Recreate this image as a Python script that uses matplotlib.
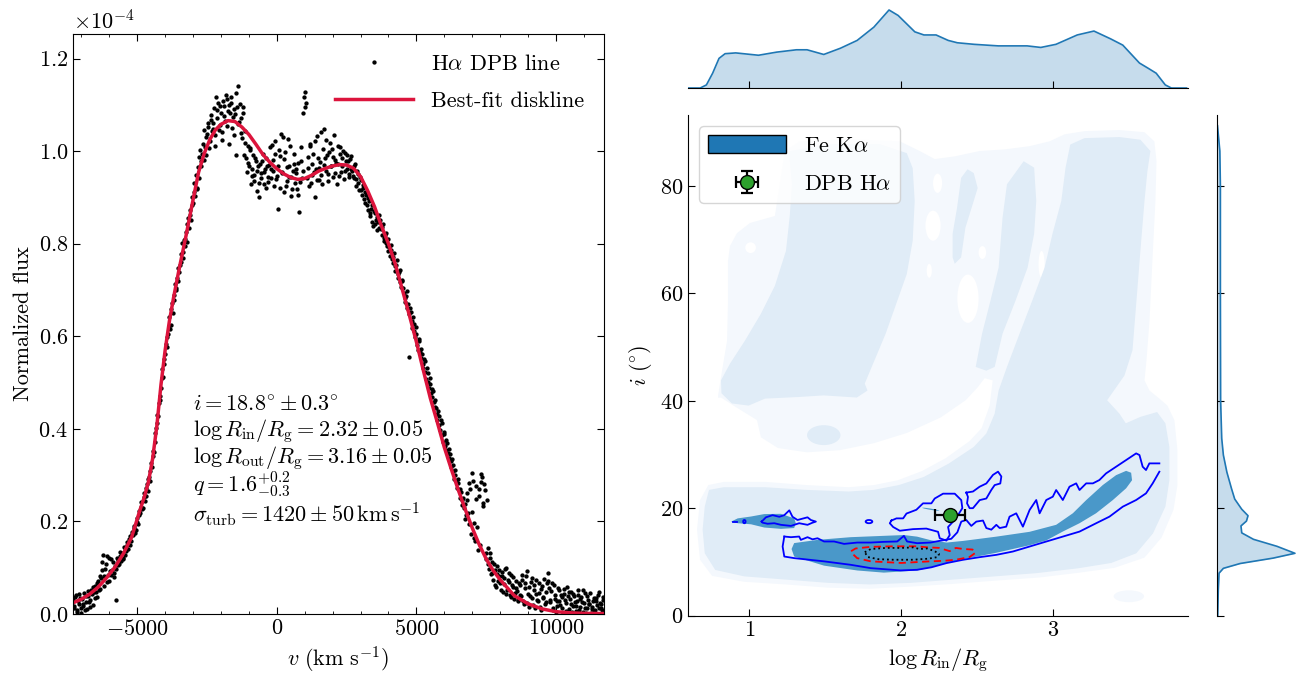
import matplotlib
matplotlib.use('Agg')
import matplotlib.pyplot as plt
import numpy as np
from matplotlib.patches import Ellipse, Patch
from matplotlib.ticker import MultipleLocator

plt.rcParams['font.family'] = 'serif'
plt.rcParams['font.serif'] = ['cmr10']
plt.rcParams['mathtext.fontset'] = 'cm'
plt.rcParams['axes.formatter.use_mathtext'] = True
plt.rcParams['font.size'] = 16
plt.rcParams['xtick.direction'] = 'in'
plt.rcParams['ytick.direction'] = 'in'
plt.rcParams['axes.unicode_minus'] = True

# ---------------- H-alpha double-peaked profile (flux in 1e-4) ----------------
v_obs = [
    -7300, -7250, -7200, -7150, -7100, -7050, -7000, -6950, -6900, -6850, -6800, -6750, -6700, -6650, -6600, -6550, -6500, -6450, -6400, -6350,
    -6300, -6250, -6200, -6150, -6100, -6050, -6000, -5950, -5900, -5850, -5800, -5750, -5700, -5650, -5600, -5550, -5500, -5450, -5400, -5350,
    -5300, -5250, -5200, -5150, -5100, -5050, -5000, -4950, -4900, -4850, -4800, -4750, -4700, -4650, -4600, -4550, -4500, -4450, -4400, -4350,
    -4300, -4250, -4200, -4150, -4100, -4050, -4000, -3950, -3900, -3850, -3800, -3750, -3700, -3650, -3600, -3550, -3500, -3450, -3400, -3350,
    -3300, -3250, -3200, -3150, -3100, -3050, -3000, -2950, -2900, -2850, -2800, -2750, -2700, -2650, -2600, -2550, -2500, -2450, -2400, -2350,
    -2300, -2250, -2200, -2150, -2100, -2050, -2000, -1950, -1900, -1850, -1800, -1750, -1700, -1650, -1600, -1550, -1500, -1450, -1400, -1350,
    -1300, -1250, -1200, -1150, -1100, -1050, -1000, -950, -900, -850, -800, -750, -700, -650, -600, -550, -500, -450, -400, -350,
    -300, -250, -200, -150, -100, -50, 0, 50, 100, 150, 200, 250, 300, 350, 400, 450, 500, 550, 600, 650,
    700, 750, 800, 850, 900, 950, 1000, 1050, 1100, 1150, 1200, 1250, 1300, 1350, 1400, 1450, 1500, 1550, 1600, 1650,
    1700, 1750, 1800, 1850, 1900, 1950, 2000, 2050, 2100, 2150, 2200, 2250, 2300, 2350, 2400, 2450, 2500, 2550, 2600, 2650,
    2700, 2750, 2800, 2850, 2900, 2950, 3000, 3050, 3100, 3150, 3200, 3250, 3300, 3350, 3400, 3450, 3500, 3550, 3600, 3650,
    3700, 3750, 3800, 3850, 3900, 3950, 4000, 4050, 4100, 4150, 4200, 4250, 4300, 4350, 4400, 4450, 4500, 4550, 4600, 4650,
    4700, 4750, 4800, 4850, 4900, 4950, 5000, 5050, 5100, 5150, 5200, 5250, 5300, 5350, 5400, 5450, 5500, 5550, 5600, 5650,
    5700, 5750, 5800, 5850, 5900, 5950, 6000, 6050, 6100, 6150, 6200, 6250, 6300, 6350, 6400, 6450, 6500, 6550, 6600, 6650,
    6700, 6750, 6800, 6850, 6900, 6950, 7000, 7050, 7100, 7150, 7200, 7250, 7300, 7350, 7400, 7450, 7500, 7550, 7600, 7650,
    7700, 7750, 7800, 7850, 7900, 7950, 8000, 8050, 8100, 8150, 8200, 8250, 8300, 8350, 8400, 8450, 8500, 8550, 8600, 8650,
    8700, 8750, 8800, 8850, 8900, 8950, 9000, 9050, 9100, 9150, 9200, 9250, 9300, 9350, 9400, 9450, 9500, 9550, 9600, 9650,
    9700, 9750, 9800, 9850, 9900, 9950, 10000, 10050, 10100, 10150, 10200, 10250, 10300, 10350, 10400, 10450, 10500, 10550, 10600, 10650,
    10700, 10750, 10800, 10850, 10900, 10950, 11000, 11050, 11100, 11150, 11200, 11250, 11300, 11350, 11400, 11450, 11500, 11550, 11600, 11650, 11700,
    -7275, -7225, -7175, -7125, -7075, -7025, -6975, -6925, -6875, -6825, -6775, -6725, -6675, -6625, -6575, -6525, -6475, -6425, -6375, -6325,
    -6275, -6225, -6175, -6125, -6075, -6025, -5975, -5925, -5875, -5825, -5775, -5725, -5675, -5625, -5575, -5525, -5475, -5425, -5375, -5325,
    -5275, -5225, -5175, -5125, -5075, -5025, -4975, -4925, -4875, -4825, -4775, -4725, -4675, -4625, -4575, -4525, -4475, -4425, -4375, -4325,
    -4275, -4225, -4175, -4125, -4075, -4025, -3975, -3925, -3875, -3825, -3775, -3725, -3675, -3625, -3575, -3525, -3475, -3425, -3375, -3325,
    -3275, -3225, -3175, -3125, -3075, -3025, -2975, -2925, -2875, -2825, -2775, -2725, -2675, -2625, -2575, -2525, -2475, -2425, -2375, -2325,
    -2275, -2225, -2175, -2125, -2075, -2025, -1975, -1925, -1875, -1825, -1775, -1725, -1675, -1625, -1575, -1525, -1475, -1425, -1375, -1325,
    -1275, -1225, -1175, -1125, -1075, -1025, -975, -925, -875, -825, -775, -725, -675, -625, -575, -525, -475, -425, -375, -325,
    -275, -225, -175, -125, -75, -25, 25, 75, 125, 175, 225, 275, 325, 375, 425, 475, 525, 575, 625, 675,
    725, 775, 825, 875, 925, 975, 1025, 1075, 1125, 1175, 1225, 1275, 1325, 1375, 1425, 1475, 1525, 1575, 1625, 1675,
    1725, 1775, 1825, 1875, 1925, 1975, 2025, 2075, 2125, 2175, 2225, 2275, 2325, 2375, 2425, 2475, 2525, 2575, 2625, 2675,
    2725, 2775, 2825, 2875, 2925, 2975, 3025, 3075, 3125, 3175, 3225, 3275, 3325, 3375, 3425, 3475, 3525, 3575, 3625, 3675,
    3725, 3775, 3825, 3875, 3925, 3975, 4025, 4075, 4125, 4175, 4225, 4275, 4325, 4375, 4425, 4475, 4525, 4575, 4625, 4675,
    4725, 4775, 4825, 4875, 4925, 4975, 5025, 5075, 5125, 5175, 5225, 5275, 5325, 5375, 5425, 5475, 5525, 5575, 5625, 5675,
    5725, 5775, 5825, 5875, 5925, 5975, 6025, 6075, 6125, 6175, 6225, 6275, 6325, 6375, 6425, 6475, 6525, 6575, 6625, 6675,
    6725, 6775, 6825, 6875, 6925, 6975, 7025, 7075, 7125, 7175, 7225, 7275, 7325, 7375, 7425, 7475, 7525, 7575, 7625, 7675,
    7725, 7775, 7825, 7875, 7925, 7975, 8025, 8075, 8125, 8175, 8225, 8275, 8325, 8375, 8425, 8475, 8525, 8575, 8625, 8675,
    8725, 8775, 8825, 8875, 8925, 8975, 9025, 9075, 9125, 9175, 9225, 9275, 9325, 9375, 9425, 9475, 9525, 9575, 9625, 9675,
    9725, 9775, 9825, 9875, 9925, 9975, 10025, 10075, 10125, 10175, 10225, 10275, 10325, 10375, 10425, 10475, 10525, 10575, 10625, 10675,
    10725, 10775, 10825, 10875, 10925, 10975, 11025, 11075, 11125, 11175, 11225, 11275, 11325, 11375, 11425, 11475, 11525, 11575, 11625, 11675,
]
flux_obs = [
    0.030, 0.012, 0.041, 0.008, 0.022, 0.035, 0.003, 0.018, 0.045, 0.026, 0.010, 0.039, 0.031, 0.052, 0.020, 0.047, 0.060, 0.036, 0.072, 0.055,
    0.078, 0.112, 0.061, 0.098, 0.125, 0.084, 0.072, 0.118, 0.096, 0.088, 0.104, 0.031, 0.117, 0.108, 0.125, 0.131, 0.119, 0.142, 0.137, 0.155,
    0.162, 0.150, 0.178, 0.171, 0.190, 0.181, 0.207, 0.223, 0.218, 0.241, 0.229, 0.262, 0.255, 0.281, 0.292, 0.288, 0.327, 0.341, 0.350, 0.392,
    0.412, 0.428, 0.471, 0.488, 0.530, 0.552, 0.561, 0.598, 0.604, 0.641, 0.624, 0.672, 0.690, 0.712, 0.705, 0.748, 0.738, 0.761, 0.802, 0.783,
    0.795, 0.826, 0.842, 0.835, 0.872, 0.901, 0.889, 0.932, 0.948, 0.921, 0.987, 1.002, 0.968, 1.015, 1.046, 0.992, 1.038, 1.061, 1.022, 1.079,
    1.048, 1.093, 1.012, 1.071, 1.105, 1.056, 1.083, 1.041, 1.098, 1.066, 1.112, 1.087, 1.015, 1.103, 1.050, 1.092, 1.081, 0.992, 1.141, 1.064,
    1.071, 1.028, 1.096, 1.044, 0.985, 1.012, 0.968, 1.003, 0.947, 0.992, 0.936, 0.978, 0.958, 0.902, 0.973, 0.941, 0.994, 0.955, 0.921, 0.968,
    0.934, 1.008, 0.962, 0.981, 0.925, 1.021, 0.947, 0.874, 0.989, 1.037, 0.952, 0.911, 0.998, 0.936, 1.026, 0.967, 0.945, 0.918, 0.972, 0.931,
    0.952, 0.906, 0.869, 0.978, 0.941, 1.082, 1.128, 1.104, 0.963, 0.925, 1.015, 0.948, 0.993, 0.902, 0.961, 1.032, 0.937, 0.976, 0.948, 1.004,
    1.047, 0.958, 0.992, 0.935, 1.018, 0.967, 0.944, 1.036, 0.981, 0.929, 0.973, 1.008, 0.955, 0.985, 0.940, 0.997, 0.962, 0.978, 0.951, 0.989,
    0.958, 0.942, 0.972, 0.925, 0.951, 0.916, 0.938, 0.905, 0.921, 0.889, 0.905, 0.872, 0.893, 0.859, 0.884, 0.838, 0.867, 0.851, 0.829, 0.862,
    0.851, 0.818, 0.842, 0.805, 0.823, 0.796, 0.811, 0.774, 0.798, 0.758, 0.779, 0.742, 0.765, 0.727, 0.744, 0.706, 0.719, 0.693, 0.674, 0.698,
    0.669, 0.556, 0.652, 0.618, 0.627, 0.598, 0.606, 0.571, 0.589, 0.553, 0.562, 0.531, 0.547, 0.508, 0.521, 0.489, 0.497, 0.468, 0.481, 0.447,
    0.446, 0.419, 0.427, 0.398, 0.412, 0.371, 0.388, 0.354, 0.369, 0.337, 0.345, 0.318, 0.322, 0.292, 0.301, 0.273, 0.282, 0.251, 0.264, 0.236,
    0.229, 0.205, 0.262, 0.218, 0.283, 0.173, 0.305, 0.196, 0.158, 0.249, 0.139, 0.271, 0.302, 0.296, 0.233, 0.268, 0.118, 0.142, 0.097, 0.121,
    0.112, 0.074, 0.095, 0.058, 0.103, 0.081, 0.066, 0.091, 0.047, 0.078, 0.099, 0.052, 0.069, 0.041, 0.085, 0.058, 0.033, 0.072, 0.049, 0.027,
    0.062, 0.038, 0.084, 0.021, 0.057, 0.092, 0.044, 0.016, 0.069, 0.035, 0.051, 0.012, 0.073, 0.028, 0.046, 0.009, 0.061, 0.034, 0.022, 0.048,
    0.088, 0.057, 0.031, 0.066, 0.014, 0.042, 0.005, 0.027, 0.051, 0.019, 0.036, 0.002, 0.044, 0.023, 0.058, 0.011, 0.032, 0.048, 0.017, 0.039,
    0.007, 0.029, 0.052, 0.015, 0.037, 0.004, 0.024, 0.046, 0.012, 0.031, 0.021, 0.003, 0.016, 0.035, 0.009, 0.027, 0.041, 0.013, 0.022, 0.008, 0.030,
    0.018, 0.036, 0.005, 0.027, 0.044, 0.014, 0.032, 0.021, 0.009, 0.038, 0.049, 0.025, 0.016, 0.043, 0.058, 0.034, 0.047, 0.066, 0.051, 0.083,
    0.094, 0.128, 0.082, 0.107, 0.069, 0.121, 0.092, 0.085, 0.113, 0.079, 0.098, 0.122, 0.106, 0.134, 0.114, 0.122, 0.145, 0.128, 0.149, 0.141,
    0.168, 0.158, 0.173, 0.186, 0.176, 0.199, 0.195, 0.214, 0.231, 0.226, 0.252, 0.245, 0.272, 0.266, 0.297, 0.309, 0.318, 0.352, 0.371, 0.401,
    0.430, 0.455, 0.462, 0.509, 0.512, 0.540, 0.584, 0.577, 0.622, 0.615, 0.658, 0.651, 0.679, 0.699, 0.726, 0.719, 0.755, 0.778, 0.769, 0.808,
    0.811, 0.803, 0.856, 0.861, 0.851, 0.884, 0.912, 0.903, 0.919, 0.965, 0.942, 0.978, 0.994, 0.981, 1.008, 1.031, 1.052, 1.006, 1.067, 1.043,
    1.061, 1.034, 1.118, 1.089, 1.045, 1.097, 1.025, 1.109, 1.076, 1.121, 1.054, 1.099, 1.082, 1.118, 1.073, 1.035, 1.126, 1.095, 1.058, 1.102,
    1.039, 1.082, 0.992, 1.018, 0.956, 0.975, 1.007, 0.928, 0.962, 0.948, 0.986, 0.914, 0.969, 0.931, 0.952, 0.978, 0.928, 0.962, 0.986, 0.945,
    0.971, 0.942, 1.013, 0.958, 0.993, 0.939, 0.968, 1.002, 0.921, 0.956, 1.031, 0.983, 0.925, 0.965, 0.944, 1.011, 0.903, 0.958, 0.993, 0.962,
    0.918, 0.975, 0.934, 1.009, 0.957, 1.118, 1.096, 0.941, 0.988, 1.012, 0.931, 0.972, 0.955, 1.021, 0.938, 0.985, 0.964, 1.041, 0.929, 0.971,
    0.985, 1.024, 0.951, 0.999, 0.967, 1.004, 0.988, 0.952, 0.974, 1.012, 0.946, 0.993, 0.968, 1.001, 0.958, 0.979, 0.992, 0.944, 0.983, 0.962,
    0.946, 0.967, 0.939, 0.958, 0.931, 0.944, 0.917, 0.927, 0.896, 0.912, 0.884, 0.899, 0.867, 0.875, 0.848, 0.871, 0.843, 0.858, 0.847, 0.833,
    0.831, 0.837, 0.812, 0.819, 0.801, 0.784, 0.793, 0.786, 0.768, 0.772, 0.751, 0.755, 0.734, 0.738, 0.718, 0.722, 0.705, 0.682, 0.688, 0.662,
    0.648, 0.661, 0.633, 0.641, 0.612, 0.619, 0.582, 0.594, 0.566, 0.573, 0.541, 0.552, 0.522, 0.531, 0.502, 0.509, 0.478, 0.486, 0.459, 0.463,
    0.432, 0.438, 0.409, 0.419, 0.386, 0.394, 0.362, 0.375, 0.348, 0.356, 0.331, 0.334, 0.308, 0.311, 0.287, 0.292, 0.267, 0.271, 0.246, 0.251,
    0.238, 0.214, 0.247, 0.195, 0.271, 0.221, 0.288, 0.165, 0.276, 0.187, 0.256, 0.148, 0.285, 0.239, 0.281, 0.131, 0.246, 0.109, 0.132, 0.086,
    0.089, 0.108, 0.062, 0.087, 0.071, 0.094, 0.052, 0.083, 0.064, 0.098, 0.043, 0.073, 0.088, 0.036, 0.063, 0.079, 0.045, 0.056, 0.031, 0.067,
    0.041, 0.073, 0.029, 0.066, 0.081, 0.024, 0.058, 0.038, 0.077, 0.019, 0.062, 0.043, 0.031, 0.068, 0.015, 0.054, 0.037, 0.075, 0.026, 0.066,
    0.071, 0.025, 0.049, 0.008, 0.062, 0.033, 0.018, 0.057, 0.029, 0.041, 0.012, 0.053, 0.031, 0.006, 0.039, 0.047, 0.021, 0.004, 0.044, 0.026,
    0.018, 0.041, 0.009, 0.033, 0.026, 0.052, 0.014, 0.002, 0.038, 0.021, 0.045, 0.011, 0.028, 0.005, 0.034, 0.019, 0.048, 0.024, 0.012, 0.036,
]

# best-fit diskline model
v_fit = [-7300, -7000, -6700, -6400, -6100, -5800, -5500, -5200, -4900, -4750, -4600, -4450, -4300,
         -4150, -4000, -3850, -3700, -3500, -3250, -3000, -2800, -2600, -2400, -2200, -2000, -1750,
         -1500, -1250, -1000, -750, -500, -250, 0, 250, 500, 750, 1000, 1250, 1500, 1750, 2000, 2250,
         2500, 2750, 3000, 3250, 3500, 3750, 4000, 4250, 4500, 4750, 5000, 5250, 5500, 5750, 6000,
         6250, 6500, 6750, 7000, 7250, 7500, 7750, 8000, 8500, 9000, 9500, 10000, 10500, 11000, 11700]
flux_fit = [0.024, 0.032, 0.043, 0.058, 0.078, 0.101, 0.130, 0.166, 0.225, 0.252, 0.285, 0.335, 0.405,
            0.495, 0.570, 0.632, 0.683, 0.745, 0.818, 0.895, 0.955, 0.995, 1.025, 1.046, 1.058, 1.066,
            1.064, 1.052, 1.036, 1.015, 0.993, 0.976, 0.962, 0.951, 0.943, 0.939, 0.941, 0.948, 0.957,
            0.963, 0.968, 0.971, 0.970, 0.963, 0.945, 0.915, 0.880, 0.838, 0.800, 0.755, 0.700, 0.645,
            0.588, 0.526, 0.466, 0.414, 0.360, 0.313, 0.268, 0.226, 0.186, 0.150, 0.119, 0.094, 0.074,
            0.040, 0.022, 0.011, 0.005, 0.0025, 0.0013, 0.001]

fit_text = [r'$i=18.8^{\circ}\pm0.3^{\circ}$',
            r'$\log R_{\rm in}/R_{\rm g}=2.32\pm0.05$',
            r'$\log R_{\rm out}/R_{\rm g}=3.16\pm0.05$',
            r'$q=1.6^{+0.2}_{-0.3}$',
            r'$\sigma_{\rm turb}=1420\pm50\,{\rm km\,s^{-1}}$']

# ---------------- Fe K-alpha posterior (log Rin, i) ----------------
# outermost density level
faint_x = [0.675, 0.655, 0.675, 0.741, 0.794, 0.794, 0.820, 0.853, 0.859, 0.859, 0.872, 0.918, 1.004, 1.168,
           1.234, 1.333, 1.662, 1.991, 2.122, 2.221, 2.353, 2.517, 2.682, 2.846, 2.978, 3.076, 3.208, 3.438,
           3.603, 3.668, 3.682, 3.675, 3.655, 3.636, 3.616, 3.603, 3.636, 3.701, 3.754, 3.800, 3.820, 3.820,
           3.794, 3.715, 3.603, 3.406, 3.175, 2.912, 2.616, 2.339, 2.063, 1.793, 1.517, 1.241, 0.964, 0.754]
faint_y = [10.4, 16.0, 21.5, 24.9, 36.4, 41.0, 45.6, 51.2, 58.6, 66.0, 68.8, 71.2, 73.1, 74.4,
           86.5, 88.3, 88.7, 88.3, 86.5, 85.0, 85.5, 86.5, 86.8, 87.4, 88.3, 89.6, 90.2, 90.4,
           90.0, 88.3, 84.6, 77.2, 66.0, 54.9, 47.5, 43.8, 41.9, 40.4, 39.1, 36.4, 30.8, 24.3,
           19.7, 14.5, 10.8, 8.9, 8.0, 7.1, 6.5, 5.9, 5.4, 5.0, 5.2, 5.8, 6.3, 7.4]
# empty band between the low-inclination ridge and the high-inclination stripes
gap_x = [0.603, 0.813, 0.912, 1.050, 1.076, 1.188, 1.379, 1.596, 1.820, 2.037, 2.261, 2.425, 2.504, 2.550,
         2.603, 2.583, 2.530, 2.451, 2.293, 2.136, 1.978, 1.820, 1.655, 1.379, 1.103, 0.833, 0.728, 0.603]
gap_y = [40.1, 40.6, 38.8, 36.4, 33.2, 31.2, 30.4, 30.8, 32.1, 34.0, 36.9, 40.1, 42.5, 44.2,
         43.8, 39.1, 34.9, 32.5, 29.3, 26.9, 25.2, 24.3, 23.9, 24.3, 24.9, 24.9, 24.3, 23.7]
# (x, y, width, height) of small empty pockets
holes = [(1.008, 68.5, 0.07, 2.0), (2.21, 72.6, 0.10, 5.6), (2.24, 80.5, 0.06, 3.6),
         (2.44, 59.0, 0.14, 9.0), (2.535, 67.6, 0.05, 2.4), (2.185, 64.2, 0.034, 2.6),
         (2.925, 65.4, 0.04, 5.0)]
faint_blob = (3.50, 3.6, 0.20, 2.2)

# second density level
light_x = [0.706, 0.734, 0.830, 1.105, 1.379, 1.654, 1.818, 1.984, 2.148, 2.313, 2.478, 2.561, 2.616, 2.642,
           2.697, 2.780, 2.863, 2.945, 2.997, 3.055, 3.083, 3.114, 3.208, 3.438, 3.576, 3.642, 3.622, 3.603,
           3.576, 3.550, 3.524, 3.471, 3.357, 3.438, 3.480, 3.576, 3.686, 3.741, 3.767, 3.767, 3.741, 3.659,
           3.549, 3.384, 3.164, 2.890, 2.615, 2.341, 2.066, 1.791, 1.516, 1.241, 0.967, 0.775, 0.706, 0.692]
light_y = [20.3, 23.4, 23.9, 23.9, 23.4, 23.1, 23.4, 24.3, 25.8, 28.3, 31.4, 33.9, 37.6, 41.9,
           46.3, 52.5, 58.6, 64.8, 71.1, 77.2, 83.4, 87.7, 88.9, 89.1, 88.6, 86.5, 82.7, 77.2,
           67.9, 58.6, 49.4, 44.7, 40.1, 37.6, 35.8, 37.0, 37.9, 35.8, 31.4, 25.2, 20.3, 15.3,
           11.6, 9.8, 8.8, 7.9, 7.3, 6.7, 6.1, 5.8, 6.1, 6.7, 7.3, 8.5, 11.6, 16.0]
stripe1_x = [1.266, 1.530, 1.859, 2.037, 2.076, 2.089, 2.076, 2.037, 1.958, 1.898, 1.760, 1.778, 1.708, 1.489,
             1.324, 1.103, 0.995, 0.885, 0.816, 0.813, 0.872, 0.971, 1.076, 1.168, 1.241, 1.266, 1.280, 1.266]
stripe1_y = [86.5, 87.8, 87.8, 86.1, 83.3, 77.2, 69.8, 63.6, 57.3, 52.5, 43.2, 41.9, 40.6, 41.0,
             40.7, 40.4, 39.1, 39.5, 41.4, 43.8, 46.9, 51.2, 56.2, 61.4, 67.9, 74.4, 80.3, 84.6]
stripe2_x = [2.437, 2.395, 2.368, 2.339, 2.339, 2.353, 2.395, 2.423, 2.478, 2.504, 2.478]
stripe2_y = [83.1, 81.5, 75.9, 71.1, 66.7, 65.5, 66.7, 72.2, 77.2, 79.6, 82.4]
stripe3_x = [2.807, 2.697, 2.668, 2.642, 2.588, 2.533, 2.491, 2.561, 2.616, 2.668, 2.753, 2.833, 2.876, 2.890, 2.876]
stripe3_y = [84.6, 80.3, 74.1, 64.8, 58.6, 52.5, 46.3, 45.6, 46.3, 52.5, 58.6, 64.8, 71.1, 77.2, 83.4]
light_blob = (1.49, 33.6, 0.22, 3.7)

# third density level
ridge_x = [1.278, 1.295, 1.449, 1.667, 1.886, 2.018, 2.105, 2.200, 2.300, 2.407, 2.627, 2.846, 3.021,
           3.131, 3.219, 3.328, 3.416, 3.482, 3.515, 3.521, 3.482, 3.394, 3.284, 3.175, 3.065, 2.956,
           2.846, 2.736, 2.627, 2.517, 2.407, 2.298, 2.200, 2.105, 1.886, 1.711, 1.492, 1.295]
ridge_y = [12.4, 13.5, 14.1, 14.6, 14.85, 15.0, 14.7, 14.0, 13.6, 13.9, 14.7, 15.6, 16.9,
           19.05, 21.5, 24.3, 26.15, 26.95, 26.6, 25.2, 23.7, 21.5, 19.05, 17.2, 15.65, 14.0,
           13.1, 12.4, 11.7, 11.1, 10.5, 9.8, 9.0, 8.4, 8.0, 8.4, 9.3, 11.0]
knot_x = [0.880, 0.923, 1.011, 1.098, 1.208, 1.295, 1.306, 1.295, 1.208, 1.098, 1.011, 0.923]
knot_y = [17.5, 18.1, 18.45, 18.9, 18.95, 18.1, 17.2, 16.3, 16.15, 16.4, 17.0, 17.2]
speck = (2.195, 19.8, 0.045, 0.6)

# Fe K-alpha confidence contours
blue_main_x = [1.230, 1.274, 1.328, 1.339, 1.383, 1.416, 1.449, 1.492, 1.558, 1.624, 1.711, 1.799, 1.886,
               1.974, 2.018, 2.039, 2.105, 2.193, 2.250, 2.330, 2.370, 2.396, 2.429, 2.462, 2.495, 2.539,
               2.561, 2.594, 2.627, 2.649, 2.692, 2.714, 2.758, 2.802, 2.846, 2.890, 2.912, 2.956, 2.999,
               3.021, 3.065, 3.109, 3.153, 3.175, 3.219, 3.263, 3.306, 3.350, 3.416, 3.482, 3.548, 3.570,
               3.591, 3.613, 3.635, 3.701]
blue_main_y = [14.72, 14.6, 14.72, 14.1, 14.6, 14.2, 14.4, 13.8, 13.8, 13.35, 13.6, 13.6, 13.73,
               13.8, 14.84, 13.8, 13.48, 13.6, 13.9, 14.3, 15.5, 17.5, 17.8, 16.7, 17.5, 17.7,
               16.3, 16.0, 16.9, 16.3, 16.56, 18.42, 19.04, 16.56, 19.66, 21.52, 19.04, 21.52, 22.14,
               23.38, 21.52, 24.0, 24.62, 23.38, 24.62, 24.62, 25.24, 26.48, 27.72, 28.96, 30.2, 29.89,
               27.72, 27.1, 28.34, 28.34]
blue_low_x = [3.701, 3.657, 3.613, 3.548, 3.460, 3.372, 3.284, 3.175, 3.065, 2.956, 2.846, 2.736, 2.627,
              2.517, 2.407, 2.298, 2.200, 2.105, 1.996, 1.799, 1.667, 1.492, 1.295, 1.230, 1.219, 1.230]
blue_low_y = [26.79, 24.62, 22.76, 21.52, 20.28, 18.42, 17.19, 15.64, 14.71, 13.79, 12.86, 11.93, 11.31,
              10.88, 10.39, 9.77, 9.0, 8.53, 8.41, 8.84, 9.46, 10.1, 10.7, 11.0, 12.86, 14.72]
blue_dpb_x = [1.936, 1.969, 2.013, 2.035, 2.100, 2.144, 2.199, 2.221, 2.276, 2.353, 2.396, 2.403, 2.374,
              2.342, 2.309, 2.320, 2.298, 2.254, 2.243, 2.166, 2.078, 1.991, 1.947, 1.925, 1.936]
blue_dpb_y = [17.7, 18.1, 18.1, 19.0, 19.7, 20.9, 20.9, 21.8, 22.7, 22.7, 21.5, 20.0, 18.7,
              17.5, 16.5, 15.0, 13.97, 14.4, 15.6, 16.2, 16.1, 15.8, 16.5, 17.2, 17.7]
blue_finger_x = [2.429, 2.473, 2.517, 2.561, 2.605, 2.638, 2.660, 2.653, 2.616, 2.594, 2.561, 2.517,
                 2.473, 2.451, 2.434, 2.440, 2.429]
blue_finger_y = [22.9, 23.1, 24.0, 24.6, 26.2, 26.8, 25.9, 24.6, 24.3, 23.4, 21.8, 21.5,
                 20.0, 20.0, 20.9, 22.1, 22.9]
blue_knot_x = [1.081, 1.109, 1.153, 1.197, 1.230, 1.263, 1.284, 1.317, 1.383, 1.405, 1.438, 1.416,
               1.383, 1.328, 1.274, 1.208, 1.164, 1.120, 1.087, 1.081]
blue_knot_y = [17.5, 18.3, 18.7, 18.4, 18.7, 19.6, 18.4, 17.8, 18.3, 17.8, 17.5, 17.3,
               16.9, 17.2, 16.7, 16.9, 17.2, 17.1, 17.3, 17.5]
blue_dots = [(0.967, 17.5, 0.016, 0.6), (1.788, 17.5, 0.044, 0.6)]
blue_dash_x = [0.89, 0.92]
blue_dash_y = [17.4, 17.4]
red_x = [1.67, 1.70, 1.80, 1.95, 2.10, 2.18, 2.25, 2.32, 2.36, 2.41, 2.47, 2.49, 2.45, 2.36, 2.28,
         2.19, 2.00, 1.80, 1.71, 1.68, 1.67]
red_y = [12.0, 12.5, 12.8, 12.9, 12.9, 12.7, 12.6, 12.0, 12.6, 12.4, 12.3, 11.7, 10.9, 10.4, 10.2,
         10.1, 9.8, 10.1, 10.7, 11.5, 12.0]
black_x = [1.76, 1.80, 1.90, 2.00, 2.08, 2.12, 2.17, 2.22, 2.25, 2.24, 2.18, 2.08, 1.95, 1.85, 1.78, 1.76]
black_y = [11.8, 12.4, 12.6, 12.6, 12.7, 12.4, 12.5, 12.0, 11.5, 10.9, 10.6, 10.4, 10.4, 10.5, 10.9, 11.8]

# DPB H-alpha best fit
dpb_logr, dpb_logr_err = 2.32, 0.10
dpb_inc, dpb_inc_err = 18.8, 0.3

# marginal densities
top_x = [0.60, 0.676, 0.717, 0.758, 0.80, 0.84, 0.91, 1.06, 1.18, 1.31, 1.38, 1.49, 1.60, 1.71, 1.82,
         1.92, 1.98, 2.09, 2.15, 2.23, 2.31, 2.37, 2.48, 2.64, 2.83, 2.92, 3.02, 3.16, 3.27, 3.38,
         3.46, 3.57, 3.63, 3.68, 3.74, 3.78, 3.88]
top_d = [0.0, 0.0, 0.04, 0.19, 0.38, 0.44, 0.45, 0.42, 0.46, 0.49, 0.49, 0.43, 0.51, 0.61, 0.78,
         1.0, 0.93, 0.72, 0.68, 0.68, 0.61, 0.58, 0.56, 0.54, 0.54, 0.52, 0.56, 0.68, 0.73, 0.63,
         0.55, 0.32, 0.25, 0.19, 0.04, 0.0, 0.0]
right_i = [0, 4.7, 7.9, 8.8, 9.7, 10.7, 11.6, 12.9, 14.2, 15.4, 16.7, 17.6, 18.6, 19.8, 21.7, 23.6,
           26.7, 29.9, 33.0, 40.0, 60.0, 80.0, 86.5, 91.2]
right_d = [0.013, 0.02, 0.03, 0.085, 0.30, 0.72, 1.0, 0.77, 0.47, 0.32, 0.31, 0.38, 0.40, 0.32, 0.23,
           0.19, 0.13, 0.085, 0.064, 0.05, 0.047, 0.047, 0.04, 0.01]

c_faint = '#f4f8fd'
c_light = '#e0ecf7'
c_mid = '#4a98c9'
kde_blue = '#1f77b4'

fig = plt.figure(figsize=(12.97, 6.75), dpi=100)

# ---------------- left: spectrum ----------------
ax = fig.add_axes([0.0563, 0.0904, 0.4094, 0.8598])
scale = 1e-4
ax.plot(v_obs, np.array(flux_obs) * scale, 'o', ms=2.1, color='k', ls='none', label=r'H$\alpha$ DPB line')
ax.plot(v_fit, np.array(flux_fit) * scale, color='crimson', lw=2.5, label='Best-fit diskline')
ax.set_xlim(-7300, 11720)
ax.set_ylim(0, 1.254e-4)
ax.xaxis.set_major_locator(MultipleLocator(5000))
ax.xaxis.set_minor_locator(MultipleLocator(1000))
ax.yaxis.set_major_locator(MultipleLocator(0.2e-4))
ax.ticklabel_format(axis='y', style='sci', scilimits=(0, 0), useMathText=True)
ax.tick_params(which='both', top=True, right=True)
ax.tick_params(which='major', length=5)
ax.tick_params(which='minor', length=2.5)
ax.set_xlabel(r'$v\ ({\rm km\ s^{-1}})$')
ax.set_ylabel('Normalized flux')
ax.legend(loc='upper right', frameon=False, handlelength=3.5, labelspacing=0.8, fontsize=16)
for line, yb in zip(fit_text, [0.3515, 0.3067, 0.2596, 0.2107, 0.159]):
    ax.text(0.226, yb, line, transform=ax.transAxes, va='baseline', ha='left', fontsize=16)

# ---------------- right: joint posterior ----------------
axj = fig.add_axes([0.5305, 0.088, 0.3855, 0.7416])
axj.fill(faint_x, faint_y, color=c_faint, lw=0)
for (cx, cy, w, h) in holes:
    axj.add_patch(Ellipse((cx, cy), w, h, color='white', lw=0))
axj.fill(gap_x, gap_y, color='white', lw=0)
axj.add_patch(Ellipse(faint_blob[:2], faint_blob[2], faint_blob[3], color=c_faint, lw=0))
axj.fill(light_x, light_y, color=c_light, lw=0)
axj.fill(stripe1_x, stripe1_y, color=c_light, lw=0)
axj.fill(stripe2_x, stripe2_y, color=c_light, lw=0)
axj.fill(stripe3_x, stripe3_y, color=c_light, lw=0)
axj.add_patch(Ellipse(light_blob[:2], light_blob[2], light_blob[3], color=c_light, lw=0))
axj.fill(ridge_x, ridge_y, color=c_mid, lw=0)
axj.fill(knot_x, knot_y, color=c_mid, lw=0)
axj.add_patch(Ellipse(speck[:2], speck[2], speck[3], angle=10, color=c_mid, lw=0))

for xs, ys in [(blue_main_x, blue_main_y), (blue_low_x, blue_low_y), (blue_dpb_x, blue_dpb_y),
               (blue_finger_x, blue_finger_y), (blue_knot_x, blue_knot_y), (blue_dash_x, blue_dash_y)]:
    axj.plot(xs, ys, color='blue', lw=1.3)
for (cx, cy, w, h) in blue_dots:
    axj.add_patch(Ellipse((cx, cy), w, h, fill=False, ec='blue', lw=1.3))
axj.plot(red_x, red_y, color='red', lw=1.3, ls=(0, (4, 2.5)))
axj.plot(black_x, black_y, color='k', lw=1.3, ls=':')

eb = axj.errorbar(dpb_logr, dpb_inc, xerr=dpb_logr_err, yerr=dpb_inc_err, fmt='o', color='#2ca02c',
                  mec='k', ms=10, ecolor='k', elinewidth=1.6, capsize=4.5, capthick=1.6, zorder=5)
axj.set_xlim(0.596, 3.89)
axj.set_ylim(0, 93.2)
axj.set_xticks([1, 2, 3])
axj.set_yticks([0, 20, 40, 60, 80])
axj.tick_params(length=5)
for s in ['top', 'right']:
    axj.spines[s].set_visible(False)
axj.set_xlabel(r'$\log R_{\rm in}/R_{\rm g}$')
axj.set_ylabel(r'$i\ (^{\circ})$')
fe_patch = Patch(facecolor=kde_blue, edgecolor='k', label=r'Fe K$\alpha$')
axj.legend([fe_patch, eb], [r'Fe K$\alpha$', r'DPB H$\alpha$'], loc='upper left', fontsize=16,
           handlelength=3.5, handleheight=0.85, labelspacing=0.8)

# marginals
axt = fig.add_axes([0.5305, 0.8696, 0.3855, 0.126])
axt.fill_between(top_x, top_d, color=kde_blue, alpha=0.25, lw=0)
axt.plot(top_x, top_d, color=kde_blue, lw=1.2)
axt.set_xlim(0.596, 3.89)
axt.set_ylim(0, 1.09)
axt.set_xticks([1, 2, 3])
axt.set_yticks([])
axt.tick_params(labelbottom=False, length=5)
for s in ['top', 'right', 'left']:
    axt.spines[s].set_visible(False)

axr = fig.add_axes([0.9381, 0.088, 0.0619, 0.7416])
axr.fill_betweenx(right_i, right_d, color=kde_blue, alpha=0.25, lw=0)
axr.plot(right_d, right_i, color=kde_blue, lw=1.2)
axr.set_ylim(0, 93.2)
axr.set_xlim(0, 1.026)
axr.set_yticks([0, 20, 40, 60, 80])
axr.set_xticks([])
axr.tick_params(labelleft=False, length=5)
for s in ['top', 'right', 'bottom']:
    axr.spines[s].set_visible(False)

fig.savefig('out.png', dpi=100)
